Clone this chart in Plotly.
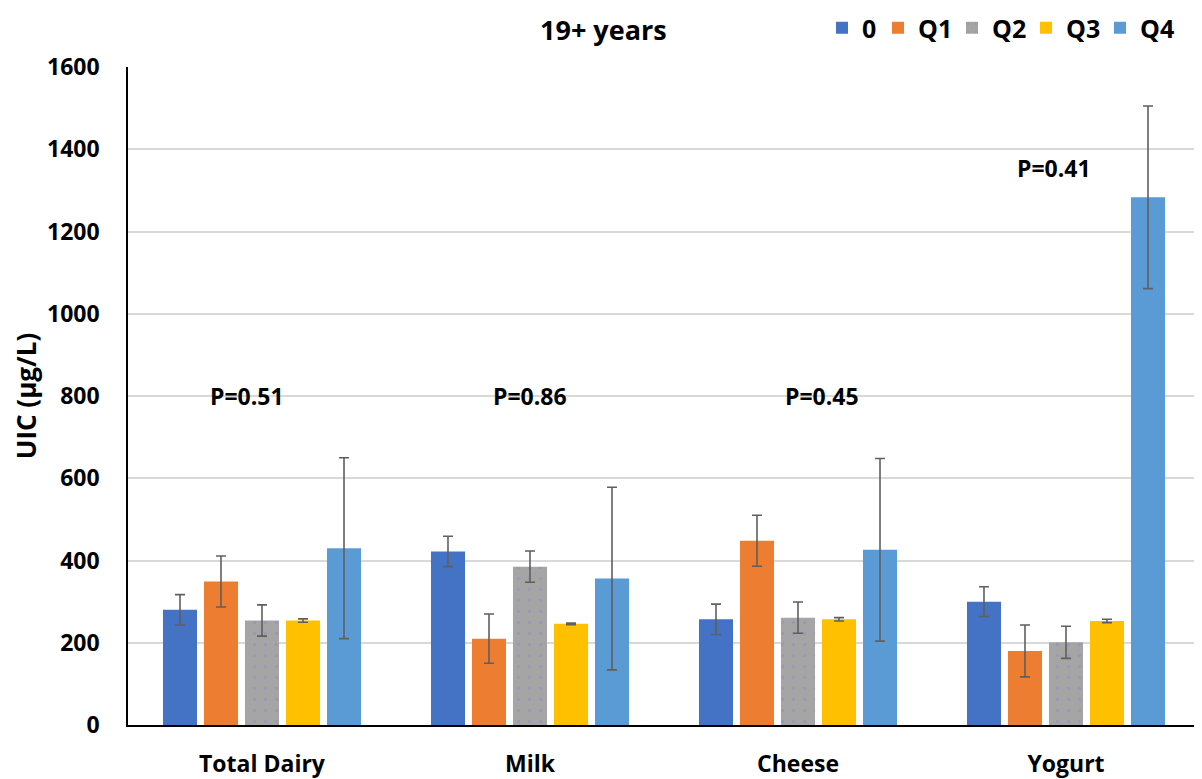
import plotly.graph_objects as go

categories = ["Total Dairy", "Milk", "Cheese", "Yogurt"]
series_names = ["0", "Q1", "Q2", "Q3", "Q4"]
values = {
    "0":  [280, 422, 257, 300],
    "Q1": [349, 210, 448, 180],
    "Q2": [254, 385, 261, 201],
    "Q3": [254, 246, 257, 253],
    "Q4": [430, 356, 426, 1283],
}
errors = {
    "0":  [37, 37, 37, 36],
    "Q1": [62, 60, 62, 63],
    "Q2": [38, 38, 38, 39],
    "Q3": [4, 2, 4, 4],
    "Q4": [220, 222, 222, 222],
}
colors = {"0": "#4472C4", "Q1": "#ED7D31", "Q2": "#A5A5A5", "Q3": "#FFC000", "Q4": "#5B9BD5"}
p_labels = ["P=0.51", "P=0.86", "P=0.45", "P=0.41"]
p_y = [800, 800, 800, 1355]
p_shift = [-15, 0, 24, -12]
title_text = "19+ years"

FONT = "Open Sans"
W, H = 1194, 771
ML, MR, MT, MB = 120, 2, 59, 54
PH = H - MT - MB
PW = W - ML - MR

# left edge (figure px) of each legend entry
legend_left_px = [814, 870, 944, 1018, 1092]

fig = go.Figure()
layout_legends = {}
for i, s in enumerate(series_names):
    marker = dict(color=colors[s], line=dict(width=0))
    if s == "Q2":
        marker["pattern"] = dict(shape=".", fgcolor="#9c98b4", bgcolor=colors[s], size=11, solidity=0.08, fillmode="replace")
    lname = f"legend{i + 2}"
    fig.add_trace(go.Bar(
        name=s, x=categories, y=values[s],
        marker=marker, legend=lname, showlegend=True,
        error_y=dict(type="data", array=errors[s], visible=True, color="#5f5f5f", thickness=1.6, width=5),
    ))
    layout_legends[lname] = dict(
        orientation="h", x=(legend_left_px[i] - ML) / PW, xanchor="left",
        y=1 + (MT + 3) / PH, yanchor="top",
        font=dict(family=FONT, size=25, color="black", weight="bold"), itemwidth=30,
        bgcolor="rgba(0,0,0,0)",
    )

for c, t, y, sh in zip(categories, p_labels, p_y, p_shift):
    fig.add_annotation(x=c, y=y, text=t, showarrow=False, xshift=sh,
                       font=dict(family=FONT, size=23, color="black", weight="bold"))

# chart title as a paper-anchored annotation
fig.add_annotation(xref="paper", yref="paper", x=(595 - ML) / PW, y=1 + (MT - 1) / PH,
                   xanchor="center", yanchor="top", text=title_text, showarrow=False,
                   font=dict(family=FONT, size=27, color="black", weight="bold"))

fig.update_layout(
    width=W, height=H, showlegend=True,
    barmode="group", bargap=0.235, bargroupgap=0.17,
    plot_bgcolor="white", paper_bgcolor="white",
    margin=dict(l=ML, r=MR, t=MT, b=MB, autoexpand=False),
    font=dict(family=FONT, color="black"),
    **layout_legends,
)
fig.update_yaxes(range=[0, 1600], dtick=200, showgrid=True, gridcolor="#D9D9D9", gridwidth=1.5,
                 showline=True, linecolor="black", linewidth=1.5, zeroline=False,
                 ticks="outside", ticklen=22, tickcolor="rgba(0,0,0,0)",
                 tickfont=dict(family=FONT, size=23, color="black", weight="bold"),
                 title=dict(text="UIC (μg/L)", font=dict(family=FONT, size=26, color="black", weight="bold"), standoff=4))
fig.update_xaxes(showline=True, linecolor="black", linewidth=1.5,
                 ticks="outside", ticklen=18, tickcolor="rgba(0,0,0,0)",
                 tickfont=dict(family=FONT, size=23, color="black", weight="bold"))

fig.write_html("out.html")
